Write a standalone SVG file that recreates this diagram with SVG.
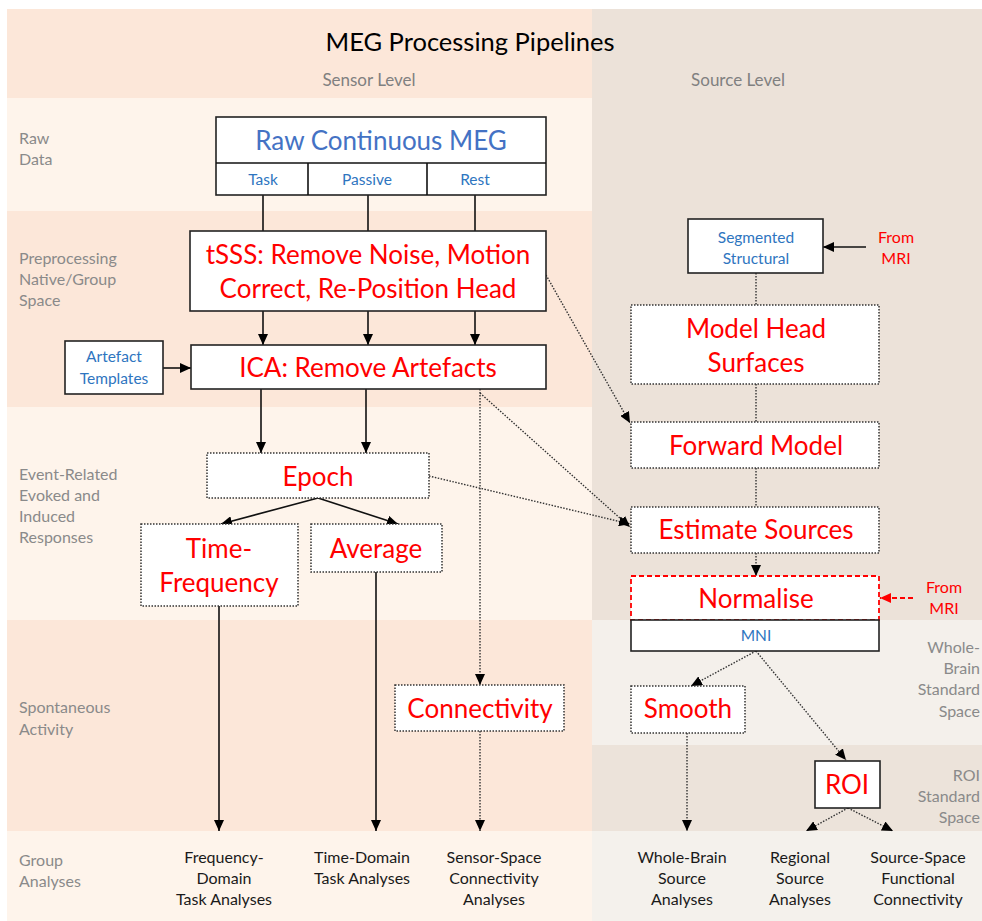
<svg xmlns="http://www.w3.org/2000/svg" width="982" height="921" viewBox="0 0 982 921">
<style>
text{font-family:Lato,"Open Sans","Liberation Sans",sans-serif}
.big{font-size:26px;fill:#ff0000;text-anchor:middle}
.blue{fill:#2e75c0;text-anchor:middle;font-size:15.5px}
.lbl{fill:#8a8a8a;font-size:16px}
.lblr{fill:#8a8a8a;font-size:16px;text-anchor:end}
.bot{fill:#1a1a1a;font-size:16px;text-anchor:middle}
.red{fill:#ff0000;font-size:16px;text-anchor:middle}
.box{fill:#fff;stroke:#222;stroke-width:1.6}
.dbox{fill:#fff;stroke:#333;stroke-width:1.5;stroke-dasharray:1.5 1.5}
.ln{stroke:#111;stroke-width:1.6;fill:none}
.dl{stroke:#333;stroke-width:1.4;fill:none;stroke-dasharray:1.5 1.5}
</style>
<defs>
<marker id="ah" markerUnits="userSpaceOnUse" markerWidth="12" markerHeight="10" refX="11" refY="5" orient="auto">
<path d="M0,0 L11,5 L0,10 z" fill="#000"/>
</marker>
<marker id="ahr" markerUnits="userSpaceOnUse" markerWidth="12" markerHeight="10" refX="11" refY="5" orient="auto">
<path d="M0,0 L11,5 L0,10 z" fill="#ff0000"/>
</marker>
</defs>
<g id="background">
<rect x="7" y="9" width="585" height="89" fill="#fce7d9"/>
<rect x="7" y="98" width="585" height="113" fill="#fef4eb"/>
<rect x="7" y="211" width="585" height="196" fill="#fce7d9"/>
<rect x="7" y="407" width="585" height="213" fill="#fef4eb"/>
<rect x="7" y="620" width="585" height="211" fill="#fce7d9"/>
<rect x="7" y="831" width="585" height="90" fill="#fef4eb"/>
<rect x="592" y="9" width="390" height="611" fill="#ece2d9"/>
<rect x="592" y="620" width="390" height="125" fill="#f4f0eb"/>
<rect x="592" y="745" width="390" height="86" fill="#ece3da"/>
<rect x="592" y="831" width="390" height="90" fill="#f4f1ec"/>
</g>
<g id="headers">
<text x="470" y="51" font-size="25.5" fill="#000" text-anchor="middle">MEG Processing Pipelines</text>
<text x="369" y="86" font-size="17" fill="#808080" text-anchor="middle">Sensor Level</text>
<text x="738" y="86" font-size="17" fill="#808080" text-anchor="middle">Source Level</text>
</g>
<g id="row-labels">
<text class="lbl" x="19" y="144">Raw</text>
<text class="lbl" x="19" y="165">Data</text>
<text class="lbl" x="19" y="264">Preprocessing</text>
<text class="lbl" x="19" y="285">Native/Group</text>
<text class="lbl" x="19" y="306">Space</text>
<text class="lbl" x="19" y="480">Event-Related</text>
<text class="lbl" x="19" y="501">Evoked and</text>
<text class="lbl" x="19" y="522">Induced</text>
<text class="lbl" x="19" y="543">Responses</text>
<text class="lbl" x="19" y="713">Spontaneous</text>
<text class="lbl" x="19" y="735">Activity</text>
<text class="lbl" x="19" y="866">Group</text>
<text class="lbl" x="19" y="887">Analyses</text>
<text class="lblr" x="980" y="653">Whole-</text>
<text class="lblr" x="980" y="674">Brain</text>
<text class="lblr" x="980" y="695">Standard</text>
<text class="lblr" x="980" y="717">Space</text>
<text class="lblr" x="980" y="781">ROI</text>
<text class="lblr" x="980" y="802">Standard</text>
<text class="lblr" x="980" y="823">Space</text>
</g>
<g id="connectors">
<line class="ln" x1="263" y1="195" x2="263" y2="231"/>
<line class="ln" x1="368" y1="195" x2="368" y2="231"/>
<line class="ln" x1="475" y1="195" x2="475" y2="231"/>
<line class="ln" x1="263" y1="311" x2="263" y2="345" marker-end="url(#ah)"/>
<line class="ln" x1="368" y1="311" x2="368" y2="345" marker-end="url(#ah)"/>
<line class="ln" x1="475" y1="311" x2="475" y2="345" marker-end="url(#ah)"/>
<line class="ln" x1="163" y1="368" x2="191" y2="368" marker-end="url(#ah)"/>
<line class="ln" x1="261" y1="389" x2="261" y2="453" marker-end="url(#ah)"/>
<line class="ln" x1="366" y1="389" x2="366" y2="453" marker-end="url(#ah)"/>
<line class="dl" x1="480" y1="389" x2="480" y2="685" marker-end="url(#ah)"/>
<line class="dl" x1="480" y1="393" x2="630" y2="527" marker-end="url(#ah)"/>
<line class="dl" x1="546" y1="275" x2="630" y2="423" marker-end="url(#ah)"/>
<line class="dl" x1="429" y1="476" x2="630" y2="524" marker-end="url(#ah)"/>
<line class="ln" x1="318" y1="498" x2="221" y2="524" marker-end="url(#ah)"/>
<line class="ln" x1="318" y1="498" x2="398" y2="524" marker-end="url(#ah)"/>
<line class="ln" x1="219" y1="606" x2="219" y2="831" marker-end="url(#ah)"/>
<line class="ln" x1="376" y1="572" x2="376" y2="831" marker-end="url(#ah)"/>
<line class="dl" x1="480" y1="731" x2="480" y2="831" marker-end="url(#ah)"/>
<line class="ln" x1="866" y1="247" x2="823" y2="247" marker-end="url(#ah)"/>
<line class="dl" x1="756" y1="273" x2="756" y2="305"/>
<line class="dl" x1="756" y1="384" x2="756" y2="422"/>
<line class="dl" x1="756" y1="468" x2="756" y2="507"/>
<line class="dl" x1="756" y1="553" x2="756" y2="576" marker-end="url(#ah)"/>
<line x1="913" y1="598" x2="880" y2="598" stroke="#ff0000" stroke-width="1.8" stroke-dasharray="5 3" marker-end="url(#ahr)"/>
<line class="dl" x1="756" y1="651" x2="691" y2="686" marker-end="url(#ah)"/>
<line class="dl" x1="756" y1="651" x2="846" y2="760" marker-end="url(#ah)"/>
<line class="dl" x1="687" y1="733" x2="687" y2="831" marker-end="url(#ah)"/>
<line class="dl" x1="848" y1="808" x2="806" y2="831" marker-end="url(#ah)"/>
<line class="dl" x1="848" y1="808" x2="893" y2="831" marker-end="url(#ah)"/>
</g>
<g id="raw-meg">
<rect class="box" x="216" y="117" width="330" height="78"/>
<line class="ln" x1="216" y1="163" x2="546" y2="163"/>
<line class="ln" x1="308" y1="163" x2="308" y2="195"/>
<line class="ln" x1="427" y1="163" x2="427" y2="195"/>
<text x="381" y="150" font-size="26" fill="#4472c4" text-anchor="middle">Raw Continuous MEG</text>
<text class="blue" x="263" y="185">Task</text>
<text class="blue" x="367" y="185">Passive</text>
<text class="blue" x="475" y="185">Rest</text>
</g>
<g id="tsss">
<rect class="box" x="190" y="231" width="356" height="80"/>
<text class="big" x="368" y="264">tSSS: Remove Noise, Motion</text>
<text class="big" x="368" y="298">Correct, Re-Position Head</text>
</g>
<g id="artefact-templates">
<rect class="box" x="65" y="341" width="98" height="53"/>
<text class="blue" x="114" y="362" fill="#4a7cc4">Artefact</text>
<text class="blue" x="114" y="384" fill="#4a7cc4">Templates</text>
</g>
<g id="ica">
<rect class="box" x="191" y="345" width="355" height="44"/>
<text class="big" x="368" y="377">ICA: Remove Artefacts</text>
</g>
<g id="epoch">
<rect class="dbox" x="207" y="453" width="222" height="45"/>
<text class="big" x="318" y="486">Epoch</text>
</g>
<g id="time-frequency">
<rect class="dbox" x="141" y="524" width="157" height="82"/>
<text class="big" x="219" y="558">Time-</text>
<text class="big" x="219" y="592">Frequency</text>
</g>
<g id="average">
<rect class="dbox" x="311" y="524" width="131" height="48"/>
<text class="big" x="376" y="558">Average</text>
</g>
<g id="connectivity">
<rect class="dbox" x="395" y="685" width="169" height="46"/>
<text class="big" x="480" y="718">Connectivity</text>
</g>
<g id="segmented-structural">
<rect class="box" x="688" y="219" width="135" height="54"/>
<text class="blue" x="756" y="243">Segmented</text>
<text class="blue" x="756" y="264">Structural</text>
</g>
<g id="from-mri-1">
<text class="red" x="896" y="243">From</text>
<text class="red" x="896" y="264">MRI</text>
</g>
<g id="model-head">
<rect class="dbox" x="631" y="305" width="248" height="79"/>
<text class="big" x="756" y="338">Model Head</text>
<text class="big" x="756" y="372">Surfaces</text>
</g>
<g id="forward-model">
<rect class="dbox" x="631" y="422" width="248" height="46"/>
<text class="big" x="756" y="455">Forward Model</text>
</g>
<g id="estimate-sources">
<rect class="dbox" x="631" y="507" width="248" height="46"/>
<text class="big" x="756" y="539">Estimate Sources</text>
</g>
<g id="normalise">
<rect x="631" y="576" width="248" height="44" fill="#fff" stroke="#ff0000" stroke-width="1.8" stroke-dasharray="5 3"/>
<text class="big" x="756" y="608">Normalise</text>
<rect class="box" x="631" y="620" width="248" height="31"/>
<text class="blue" x="756" y="641">MNI</text>
</g>
<g id="from-mri-2">
<text class="red" x="944" y="593">From</text>
<text class="red" x="944" y="614">MRI</text>
</g>
<g id="smooth">
<rect class="dbox" x="631" y="686" width="114" height="47"/>
<text class="big" x="688" y="718">Smooth</text>
</g>
<g id="roi">
<rect class="box" x="815" y="761" width="65" height="47"/>
<text class="big" x="847" y="794">ROI</text>
</g>
<g id="outputs">
<text class="bot" x="224" y="863">Frequency-</text>
<text class="bot" x="224" y="884">Domain</text>
<text class="bot" x="224" y="905">Task Analyses</text>
<text class="bot" x="362" y="863">Time-Domain</text>
<text class="bot" x="362" y="884">Task Analyses</text>
<text class="bot" x="494" y="863">Sensor-Space</text>
<text class="bot" x="494" y="884">Connectivity</text>
<text class="bot" x="494" y="905">Analyses</text>
<text class="bot" x="682" y="863">Whole-Brain</text>
<text class="bot" x="682" y="884">Source</text>
<text class="bot" x="682" y="905">Analyses</text>
<text class="bot" x="800" y="863">Regional</text>
<text class="bot" x="800" y="884">Source</text>
<text class="bot" x="800" y="905">Analyses</text>
<text class="bot" x="918" y="863">Source-Space</text>
<text class="bot" x="918" y="884">Functional</text>
<text class="bot" x="918" y="905">Connectivity</text>
</g>
</svg>
